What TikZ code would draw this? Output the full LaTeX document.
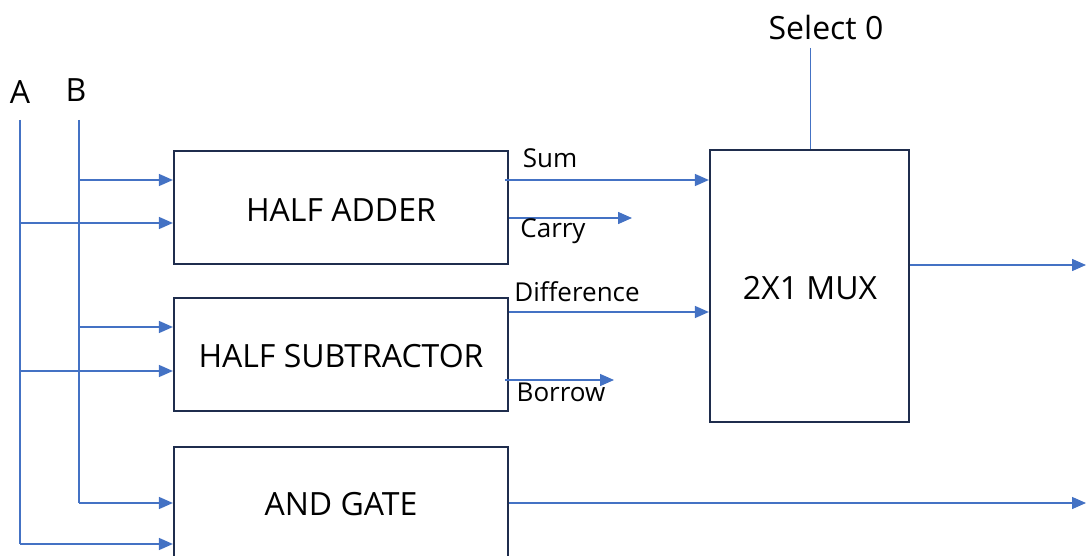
\documentclass[tikz,border=0pt]{standalone}
\usepackage{fontspec}
\setmainfont{Open Sans}
\usetikzlibrary{arrows.meta}
\definecolor{boxc}{HTML}{1F2D4D}
\definecolor{sigc}{HTML}{4472C4}
\tikzset{
  blk/.style={draw=boxc, line width=2.2pt, inner sep=0pt},
  sig/.style={draw=sigc, line width=1.4pt, -{Triangle[length=14pt,width=12pt]}},
  wire/.style={draw=sigc, line width=1.4pt},
  lbl/.style={inner sep=0pt, font=\fontsize{26}{31}\selectfont},
  big/.style={inner sep=0pt, font=\fontsize{32}{38}\selectfont}
}
\begin{document}
\begin{tikzpicture}[x=1pt,y=-1pt]
\useasboundingbox (0,0) rectangle (1086,556);
\clip (0,0) rectangle (1086,556);
% boxes
\node[blk, minimum width=334pt, minimum height=113pt] (ha) at (341,207.5) {};
\node[blk, minimum width=334pt, minimum height=113pt] (hs) at (341,354.5) {};
\node[blk, minimum width=334pt, minimum height=113pt] (ag) at (341,503.5) {};
\node[blk, minimum width=199pt, minimum height=272pt] (mux) at (809.5,286) {};
\node[big] (hat) at (341,210) {HALF ADDER};
\node[big] (hst) at (341,356) {HALF SUBTRACTOR};
\node[big] (agt) at (341,504) {AND GATE};
\node[big] (muxt) at (810,288) {2X1 MUX};
% inputs
\node[big] (la) at (20,92) {A};
\node[big] (lb) at (76,90) {B};
\coordinate (atop) at (20,120);
\coordinate (btop) at (79,120);
\coordinate (abot) at (20,544);
\coordinate (bbot) at (79,503);
\draw[wire] (atop) -- (abot);
\draw[wire] (btop) -- (bbot);
\draw[sig] (btop |- 0,180) -- (ha.west |- 0,180);
\draw[sig] (atop |- 0,223) -- (ha.west |- 0,223);
\draw[sig] (btop |- 0,327) -- (hs.west |- 0,327);
\draw[sig] (atop |- 0,371) -- (hs.west |- 0,371);
\draw[sig] (bbot) -- (ag.west |- bbot);
\draw[sig] (abot) -- (ag.west |- abot);
% outputs
\coordinate (sumst) at (505,180);
\coordinate (carryend) at (632,218);
\coordinate (borrowend) at (614,380);
\draw[sig] (sumst) -- (mux.west |- sumst);
\draw[sig] (ha.east |- carryend) -- (carryend);
\draw[sig] (hs.east |- 0,312) -- (mux.west |- 0,312);
\draw[sig] (505,380) -- (borrowend);
\node[lbl] (sum) at (550,158) {Sum};
\node[lbl] (carry) at (553,231) {Carry};
\node[lbl] (diff) at (577,292) {Difference};
\node[lbl] (borrow) at (561,392) {Borrow};
\coordinate (muxout) at (1086,265);
\coordinate (agout) at (1086,503);
\draw[sig] (mux.east |- muxout) -- (muxout);
\draw[sig] (ag.east |- agout) -- (agout);
% select
\node[big] (sel) at (826,28) {Select 0};
\coordinate (seltop) at (810,48);
\draw[wire, line width=1pt] (seltop) -- (seltop |- mux.north);
\end{tikzpicture}
\end{document}
